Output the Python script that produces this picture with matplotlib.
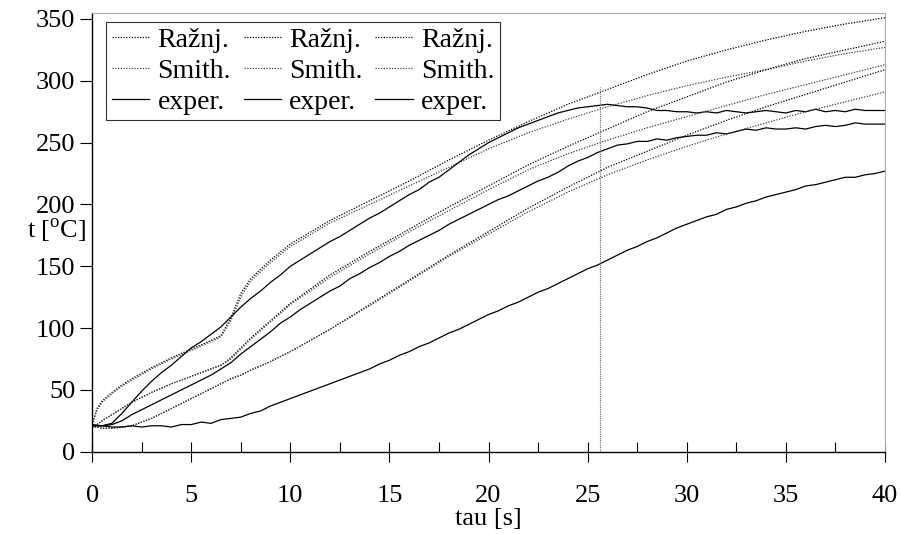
import matplotlib
matplotlib.use("Agg")
import matplotlib.pyplot as plt
from matplotlib.ticker import MultipleLocator

plt.rcParams['font.family'] = ['Liberation Serif', 'DejaVu Serif']
plt.rcParams['mathtext.fontset'] = 'custom'
plt.rcParams['mathtext.rm'] = 'Liberation Serif'

# time grid of the model curves [s]
t_model = [0, 0.25, 0.5, 1, 1.5, 2, 3, 4, 5, 6, 6.5, 7, 7.5, 8, 9, 10,
           12, 14, 16, 18, 20, 22, 24, 26, 28, 30, 32, 34, 36, 38, 40]

# upper case: Raznjevic / Smith model
razn_1 = [22, 35, 41, 48, 54, 59, 68, 76, 83, 90, 94, 108, 128, 140, 155, 168,
          187, 203, 219, 236, 252, 267, 281, 293, 305, 316, 325, 333, 340, 346, 351]
smith_1 = [22, 34, 40, 47, 53, 58, 67, 75, 82, 89, 93, 106, 125, 138, 153, 166,
           185, 200, 215, 230, 245, 258, 269, 279, 288, 296, 303, 309, 316, 322, 327]
# middle case
razn_2 = [20, 22, 25, 30, 35, 40, 48, 55, 61, 67, 70, 76, 84, 92, 106, 120,
          143, 162, 180, 198, 215, 232, 247, 261, 275, 287, 299, 309, 318, 325, 332]
smith_2 = [20, 22, 25, 30, 35, 40, 48, 55, 61, 67, 70, 75, 83, 91, 105, 119,
           141, 160, 178, 195, 212, 228, 241, 252, 262, 271, 280, 289, 297, 305, 313]
# lower case
razn_3 = [20, 20, 19, 19, 20, 21, 27, 35, 43, 51, 55, 59, 62, 66, 73, 81,
          99, 119, 139, 159, 178, 197, 214, 230, 243, 256, 268, 279, 289, 299, 309]
smith_3 = [20, 20, 19, 19, 20, 21, 27, 35, 43, 51, 55, 59, 62, 66, 73, 81,
           99, 118, 138, 158, 176, 194, 210, 224, 236, 247, 257, 266, 275, 283, 291]

# measured temperatures, every 0.5 s
t_exp = [i * 0.5 for i in range(81)]
exp_1 = [22, 21, 23, 31, 40, 49, 57, 64, 70, 77, 84, 89, 95, 101, 109, 117, 124, 130,
         137, 143, 150, 155, 160, 165, 170, 174, 179, 184, 189, 193, 198, 203, 208, 212,
         218, 222, 228, 234, 240, 245, 250, 254, 258, 262, 265, 268, 271, 274, 276, 278,
         279, 280, 281, 280, 279, 279, 278, 276, 276, 275, 275, 274, 275, 274, 276, 275,
         274, 275, 276, 275, 274, 276, 275, 277, 275, 276, 275, 277, 276, 276, 276]
exp_2 = [21, 21, 22, 25, 30, 34, 38, 42, 46, 50, 54, 58, 62, 67, 72, 79, 85, 91,
         97, 104, 109, 115, 120, 125, 130, 134, 140, 144, 149, 153, 158, 162, 167, 171,
         175, 179, 184, 188, 192, 196, 200, 204, 207, 211, 215, 219, 222, 226, 231, 235,
         238, 242, 245, 248, 249, 251, 251, 253, 252, 254, 255, 256, 256, 258, 257, 259,
         261, 260, 262, 261, 261, 262, 261, 263, 264, 263, 264, 266, 265, 265, 265]
exp_3 = [21, 21, 20, 20, 21, 20, 21, 21, 20, 22, 22, 24, 23, 26, 27, 28, 31, 33,
         37, 40, 43, 46, 49, 52, 55, 58, 61, 64, 67, 71, 74, 78, 81, 85,
         88, 92, 96, 99, 103, 107, 111, 114, 118, 121, 125, 129, 132, 136, 140, 144,
         148, 151, 155, 159, 163, 166, 170, 173, 177, 181, 184, 187, 190, 192, 196, 198,
         201, 203, 206, 208, 210, 212, 215, 216, 218, 220, 222, 222, 224, 225, 227]

# time of the marker line and its height
t_mark = 25.6
t_mark_top = 295

fig = plt.figure(figsize=(9.03, 5.34), dpi=100)
ax = fig.add_axes([0.102, 0.154, 0.878, 0.822])

dot = (0, (1, 1.2))
h = []
for r, s, e in [(razn_1, smith_1, exp_1), (razn_2, smith_2, exp_2), (razn_3, smith_3, exp_3)]:
    lr, = ax.plot(t_model, r, color='black', linestyle=dot, linewidth=0.9, label='Ražnj.')
    ls, = ax.plot(t_model, s, color='#404040', linestyle=dot, linewidth=0.9, label='Smith.')
    le, = ax.plot(t_exp, e, color='black', linestyle='-', linewidth=0.9, label='exper.')
    h += [lr, ls, le]

ax.plot([t_mark, t_mark], [0, t_mark_top], color='#666666', linestyle=(0, (1, 1)), linewidth=0.8)

ax.set_xlim(0, 40)
ax.set_ylim(0, 355)
ax.xaxis.set_major_locator(MultipleLocator(5))
ax.xaxis.set_minor_locator(MultipleLocator(2.5))
ax.yaxis.set_major_locator(MultipleLocator(50))

ax.tick_params(axis='x', which='major', direction='inout', length=14, width=0.8,
               labelsize=19, pad=17)
ax.tick_params(axis='x', which='minor', direction='in', length=7, width=0.8)
ax.tick_params(axis='y', which='major', direction='out', length=9, width=0.8,
               labelsize=19, pad=3)

for side in ['top', 'right']:
    ax.spines[side].set_color('#aaaaaa')
for side in ['left', 'bottom']:
    ax.spines[side].set_linewidth(1.0)

ax.set_xlabel('tau [s]', fontsize=19, labelpad=1)
ax.set_ylabel('t [$^{\\rm o}$C]', fontsize=19, rotation=0, ha='right', va='center')
ax.yaxis.set_label_coords(-0.007, 0.503)

leg = ax.legend(handles=h, ncol=3, loc='upper left', fontsize=20, frameon=True,
                fancybox=False, edgecolor='black', handlelength=1.35, handletextpad=0.3,
                columnspacing=0.45, labelspacing=0.2, borderpad=0.2, borderaxespad=0,
                bbox_to_anchor=(0.0177, 0.9795))
leg.get_frame().set_linewidth(0.8)

plt.savefig('out.png', dpi=100)
